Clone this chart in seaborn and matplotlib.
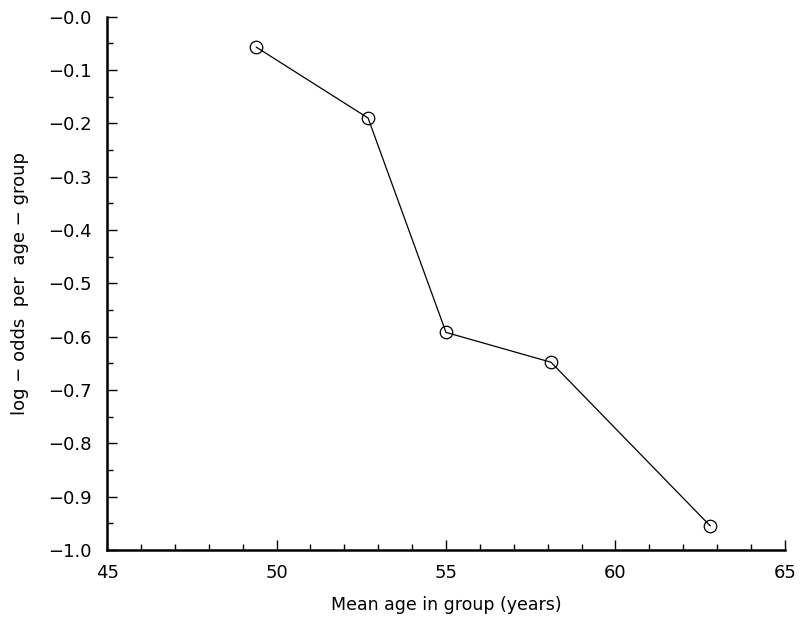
import matplotlib
matplotlib.use("Agg")
import matplotlib.pyplot as plt
from matplotlib.ticker import MultipleLocator, FuncFormatter
import seaborn as sns
import pandas as pd

# Mean age of each age group and the log-odds estimated for it
mean_age = [49.4, 52.7, 55.0, 58.1, 62.8]
log_odds = [-0.057, -0.190, -0.592, -0.648, -0.955]

df = pd.DataFrame({"age": mean_age, "logodds": log_odds})

sns.set_style("ticks")
plt.rcParams["font.family"] = ["DejaVu Sans"]
plt.rcParams["text.color"] = "black"
plt.rcParams["axes.labelcolor"] = "black"

fig = plt.figure(figsize=(8, 6.2), dpi=100)
ax = fig.add_axes([0.134, 0.113, 0.847, 0.86])

sns.lineplot(data=df, x="age", y="logodds", ax=ax, color="black",
             linewidth=0.9, marker="o", markersize=9,
             markerfacecolor="none", markeredgecolor="black",
             markeredgewidth=0.9, sort=False)

ax.set_xlim(45, 65)
ax.set_ylim(-1.0, 0.0)
ax.xaxis.set_major_locator(MultipleLocator(5))
ax.xaxis.set_minor_locator(MultipleLocator(1))
ax.yaxis.set_major_locator(MultipleLocator(0.1))
ax.yaxis.set_minor_locator(MultipleLocator(0.05))
ax.yaxis.set_major_formatter(FuncFormatter(lambda v, p: f"\u2212{abs(v):.1f}"))
ax.xaxis.set_major_formatter(FuncFormatter(lambda v, p: f"{v:.0f}"))

ax.tick_params(axis="both", which="major", direction="in", length=7,
               width=1.0, labelsize=13, colors="black")
ax.tick_params(axis="both", which="minor", direction="in", length=4,
               width=1.0, colors="black")
ax.tick_params(axis="x", which="major", pad=10)
ax.tick_params(axis="y", which="major", pad=11)

sns.despine(ax=ax)
for s in ("left", "bottom"):
    ax.spines[s].set_linewidth(1.8)
    ax.spines[s].set_color("black")

ax.set_xlabel("Mean age in group (years)", fontsize=12.5, labelpad=10)
ax.set_ylabel("log \u2212 odds  per  age \u2212 group", fontsize=13, labelpad=14)

fig.savefig("out.png", dpi=100, facecolor="white")
